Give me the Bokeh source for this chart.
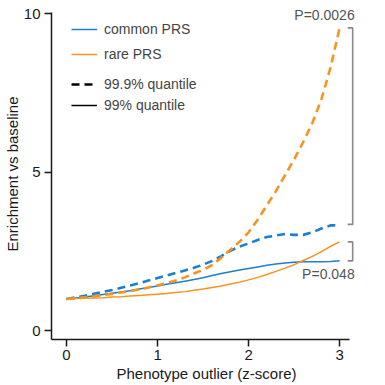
from bokeh.plotting import figure
from bokeh.models import Range1d, Legend, LegendItem, ColumnDataSource
from bokeh.embed import file_html
from bokeh.resources import INLINE
from bokeh.core.properties import value

# ---- data ----
z = [round(0.1 * i, 1) for i in range(31)]
common_999 = [1.0, 1.05, 1.1, 1.16, 1.22, 1.28, 1.35, 1.42, 1.5, 1.58, 1.66,
              1.74, 1.82, 1.9, 1.98, 2.08, 2.2, 2.35, 2.52, 2.65, 2.75,
              2.86, 2.95, 3.0, 3.05, 3.02, 3.02, 3.1, 3.22, 3.32, 3.32]
rare_999 = [1.0, 1.02, 1.05, 1.08, 1.12, 1.16, 1.2, 1.25, 1.3, 1.36, 1.43,
            1.5, 1.58, 1.68, 1.8, 1.92, 2.07, 2.3, 2.55, 2.8, 3.1,
            3.5, 3.95, 4.4, 4.9, 5.4, 5.95, 6.55, 7.3, 8.3, 9.55]
common_99 = [1.0, 1.03, 1.06, 1.1, 1.14, 1.18, 1.22, 1.26, 1.31, 1.36, 1.41,
             1.46, 1.51, 1.56, 1.61, 1.67, 1.74, 1.8, 1.86, 1.91, 1.96,
             2.01, 2.06, 2.1, 2.13, 2.16, 2.17, 2.17, 2.17, 2.18, 2.2]
rare_99 = [1.0, 1.01, 1.02, 1.03, 1.04, 1.06, 1.07, 1.09, 1.11, 1.13, 1.15,
           1.17, 1.2, 1.23, 1.27, 1.31, 1.36, 1.41, 1.47, 1.53, 1.6,
           1.68, 1.77, 1.87, 1.97, 2.08, 2.21, 2.34, 2.49, 2.66, 2.8]
series_labels = ["common PRS", "rare PRS"]
style_labels = ["99.9% quantile", "99% quantile"]
p_values = ["P=0.0026", "P=0.048"]
x_ticks = [0, 1, 2, 3]
y_ticks = [0, 5, 10]

BLUE = "#1b7fd0"
ORANGE = "#f7931e"
GRAY = "#8a8a8a"
FONT = "Liberation Sans"

p = figure(frame_width=310, frame_height=331, output_backend="svg",
           toolbar_location=None, min_border_left=44, min_border_right=8,
           min_border_top=8, min_border_bottom=6)
p.x_range = Range1d(-0.165, 3.24)
p.y_range = Range1d(-0.28, 10.16)

src = ColumnDataSource(dict(z=z, c999=common_999, r999=rare_999,
                            c99=common_99, r99=rare_99))
DASH = "8 5"
r_c = p.line("z", "c99", source=src, color=BLUE, line_width=1.5)
r_r = p.line("z", "r99", source=src, color=ORANGE, line_width=1.5)
p.line("z", "c999", source=src, color=BLUE, line_width=2.6, line_dash=DASH)
p.line("z", "r999", source=src, color=ORANGE, line_width=2.6, line_dash=DASH)

# style-legend proxies (not visible in plot: NaN values)
nan = float("nan")
proxy = ColumnDataSource(dict(x=z[:2], y=[nan, nan]))
r_d = p.line("x", "y", source=proxy, color="black", line_width=2.6, line_dash=DASH)
r_s = p.line("x", "y", source=proxy, color="black", line_width=1.5)

# brackets
xe = z[-1]
bx0, bx1 = xe + 0.088, xe + 0.143
top1, bot1 = max(rare_999), common_999[-1] + 0.03
top2, bot2 = rare_99[-1], common_99[-1]
p.line([bx0, bx1, bx1, bx0], [top1, top1, bot1, bot1], color=GRAY, line_width=1.6)
p.line([bx0, bx1, bx1, bx0], [top2, top2, bot2, bot2], color=GRAY, line_width=1.6)

p.text(x=[xe + 0.165, xe + 0.165], y=[top1 + 0.4, bot2 - 0.42], text=p_values,
       text_align="right", text_baseline="middle", text_color="#555555",
       text_font=value(FONT), text_font_size="14px")

# legends
def mk_legend(items, loc, spacing):
    lg = Legend(items=items, location=loc, padding=0, margin=0, spacing=spacing,
                glyph_width=26, glyph_height=20, label_height=20, label_standoff=7,
                label_text_font=FONT, label_text_font_size="14px",
                border_line_color=None, background_fill_alpha=0)
    return lg

lg1 = mk_legend([LegendItem(label=series_labels[0], renderers=[r_c]),
                 LegendItem(label=series_labels[1], renderers=[r_r])], (20, 275), 5)
lg2 = mk_legend([LegendItem(label=style_labels[0], renderers=[r_d]),
                 LegendItem(label=style_labels[1], renderers=[r_s])], (20, 224), 1)
p.add_layout(lg1)
p.add_layout(lg2)

# axes
p.xgrid.visible = False
p.ygrid.visible = False
p.outline_line_color = None
p.background_fill_color = None
p.border_fill_color = None
for ax in (p.xaxis[0], p.yaxis[0]):
    ax.axis_line_width = 1.5
    ax.axis_line_color = "#1a1a1a"
    ax.major_tick_line_color = "#1a1a1a"
    ax.major_tick_line_width = 1.5
    ax.major_tick_out = 7
    ax.major_tick_in = 0
    ax.minor_tick_line_color = None
    ax.major_label_text_font = FONT
    ax.major_label_text_font_size = "15px"
    ax.major_label_text_color = "#1a1a1a"
    ax.axis_label_text_font = FONT
    ax.axis_label_text_font_size = "15px"
    ax.axis_label_text_font_style = "normal"
    ax.axis_label_text_color = "#1a1a1a"
p.xaxis.ticker = x_ticks
p.yaxis.ticker = y_ticks
p.xaxis.bounds = (-0.165, 3.11)
p.yaxis.bounds = (-0.28, 10.03)
p.xaxis.axis_label = "Phenotype outlier (z-score)"
p.yaxis.axis_label = "Enrichment vs baseline"
p.xaxis.major_label_standoff = 3
p.yaxis.major_label_standoff = 4
p.xaxis.axis_label_standoff = 2
p.yaxis.axis_label_standoff = 0

open("out.html", "w").write(file_html(p, INLINE))
